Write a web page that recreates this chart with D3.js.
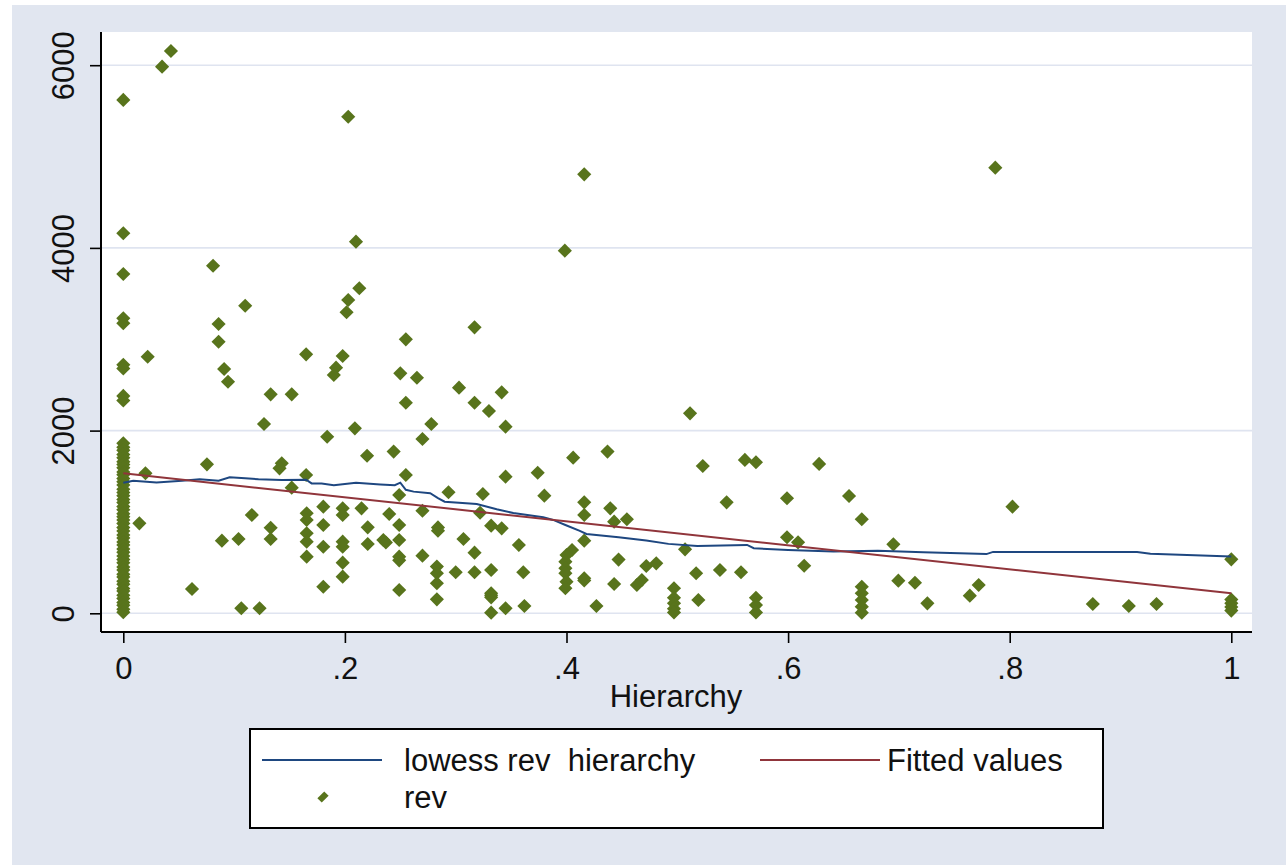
<!DOCTYPE html>
<html>
<head>
<meta charset="utf-8">
<script src="https://cdn.jsdelivr.net/npm/d3@7"></script>
<style>
  html, body { margin: 0; padding: 0; background: #ffffff; }
  svg { display: block; }
  text { font-family: "Liberation Sans", Arial, sans-serif; fill: #111; white-space: pre; }
</style>
</head>
<body>
<svg id="chart" width="1286" height="865"></svg>
<script>
// ---------------- DATA ----------------
const xTicks = [0, 0.2, 0.4, 0.6, 0.8, 1];
const xTickLabels = ["0", ".2", ".4", ".6", ".8", "1"];
const yTicks = [0, 2000, 4000, 6000];
const yTickLabels = ["0", "2000", "4000", "6000"];
const xTitle = "Hierarchy";
const legendLabels = ["lowess rev  hierarchy", "Fitted values", "rev"];

// scatter: hierarchy (x) and rev (y)
const hierarchy = [
  0,0,0,0,0,0,0,0,0,
  0,0,0,0,0,0,0,0,0,0,0,0,0,0,0,0,0,0,0,0,0,0,0,0,0,0,0,0,0,0,0,0,0,0,0,0,0,0,0,0,0,0,0,0,0,0,0,0,0,
  0.035,0.043,0.203,0.21,0.081,0.213,0.11,0.203,0.2015,0.086,0.086,0.022,0.091,0.0945,0.133,0.152,0.165,0.198,0.192,0.19,
  0.127,0.209,0.184,0.22,0.244,0.02,0.0145,0.0755,0.062,0.089,0.104,0.116,0.133,0.133,0.1065,0.123,0.143,0.141,0.152,0.165,
  0.1655,0.1655,0.1655,0.1655,0.1655,
  0.1805,0.1805,0.1805,0.1805,
  0.198,0.198,0.198,0.198,0.198,0.198,
  0.215,0.2206,0.2206,0.2347,0.237,0.24,
  0.249,0.249,0.249,0.249,0.249,0.249,
  0.255,0.317,0.25,0.265,0.255,0.303,0.317,0.33,0.3415,0.345,0.278,0.27,0.255,0.345,0.374,0.38,0.406,0.437,0.5115,0.523,
  0.561,0.571,0.628,0.5445,0.599,0.2935,0.3245,0.416,0.416,0.4395,0.443,0.4545,0.27,0.322,0.284,0.284,0.332,0.3415,
  0.27,0.307,0.317,0.357,0.416,0.447,0.472,0.481,0.507,
  0.405,0.4,0.399,0.399,0.399,0.4,0.399,
  0.283,0.283,0.283,0.283,
  0.3,0.317,
  0.332,0.332,0.332,0.332,0.332,
  0.345,0.361,0.362,0.416,0.416,0.427,0.443,0.4635,0.468,
  0.497,0.497,0.497,0.497,0.497,
  0.517,0.519,0.5385,0.5575,
  0.571,0.571,0.571,
  0.599,0.609,0.6145,0.655,0.6665,0.695,
  0.6665,0.6665,0.6665,0.6665,0.6665,
  0.6995,0.7145,0.7257,0.764,0.772,0.8025,0.875,0.9075,0.9325,
  1,1,1,1,1,
  0.416,0.3985,0.787
];
const rev = [
  5620,4160,3714,3229,3175,2720,2680,2380,2330,
  1862,1818,1784,1738,1702,1660,1628,1592,1547,1518,1476,1441,1405,1358,1322,1288,1246,1212,1168,1134,1091,1058,1022,984,938,902,857,823,781,748,703,668,627,588,552,507,474,428,398,352,318,271,243,198,163,118,87,44,12,
  5984,6155,5436,4068,3805,3558,3367,3430,3295,3167,2973,2809,2674,2535,2397,2397,2835,2817,2689,2609,
  2072,2025,1933,1725,1770,1533,985,1631,266,795,813,1076,937,813,55,55,1642,1587,1375,1514,
  1095,1021,876,784,620,
  1167,967,729,291,
  1149,1076,784,729,554,401,
  1149,941,759,802,775,1087,
  1295,967,802,620,580,255,
  2999,3130,2627,2579,2305,2470,2305,2214,2419,2043,2072,1908,1514,1496,1539,1288,1704,1770,2189,1613,
  1679,1653,1635,1215,1259,1325,1306,1215,1076,1149,1003,1029,1123,1101,940,905,959,930,
  631,813,664,748,795,588,518,547,700,
  693,638,565,493,438,346,274,
  511,438,329,153,
  449,449,
  474,219,198,175,7,
  55,449,80,383,360,80,321,310,365,
  274,170,110,50,10,
  438,146,474,449,
  170,90,10,
  832,777,521,1284,1029,755,
  291,219,146,73,7,
  357,335,109,193,310,1167,102,80,102,
  591,150,110,70,30,
  4805,3970,4878
];

// lowess rev hierarchy
const lowessX = [0,0.009,0.03,0.053,0.069,0.086,0.096,0.11,0.122,0.143,0.165,0.17,0.179,0.19,0.21,0.232,0.245,0.25,0.255,0.262,0.277,0.284,0.29,0.319,0.337,0.352,0.379,0.388,0.399,0.412,0.418,0.447,0.472,0.492,0.518,0.563,0.569,0.6,0.641,0.681,0.722,0.779,0.785,0.915,0.927,1.0];
const lowessY = [1428,1450,1432,1450,1468,1452,1488,1478,1468,1460,1462,1422,1420,1402,1428,1410,1402,1430,1352,1332,1314,1262,1222,1197,1139,1097,1051,1022,967,903,868,832,796,760,738,748,712,694,676,684,668,648,672,672,652,622];

// Fitted values (linear fit)
const fitX = [0, 1];
const fitY = [1533, 219];

// ---------------- LAYOUT ----------------
const svg = d3.select("#chart");
const W = 1286, H = 865;
const FONT = 31;

svg.append("rect").attr("x", 12).attr("y", 5).attr("width", W - 12).attr("height", H - 5)
  .attr("fill", "#e1e6f0");

const plot = { left: 101, right: 1252, top: 32, bottom: 632 };
svg.append("rect").attr("x", plot.left).attr("y", plot.top)
  .attr("width", plot.right - plot.left).attr("height", plot.bottom - plot.top)
  .attr("fill", "#ffffff");

const x = d3.scaleLinear().domain([0, 1]).range([123.3, 1231.3]);
const y = d3.scaleLinear().domain([0, 6000]).range([613.3, 65.2]);

// gridlines
svg.append("g").selectAll("line").data(yTicks).join("line")
  .attr("x1", plot.left).attr("x2", plot.right)
  .attr("y1", d => y(d)).attr("y2", d => y(d))
  .attr("stroke", "#dfe4f0").attr("stroke-width", 1.6);

// axes
const yAxis = d3.axisLeft(y).tickValues(yTicks).tickSize(11).tickPadding(0)
  .tickFormat((d, i) => yTickLabels[i]);
const gy = svg.append("g").attr("transform", `translate(${plot.left},0)`).call(yAxis);
gy.select(".domain").attr("d", `M0,${plot.top}V${plot.bottom}`).attr("stroke", "#000").attr("stroke-width", 2);
gy.selectAll(".tick line").attr("stroke", "#000").attr("stroke-width", 1.6);
gy.selectAll(".tick text")
  .attr("font-size", FONT).attr("font-family", "Liberation Sans, Arial, sans-serif").attr("fill", "#111")
  .attr("text-anchor", "middle").attr("dy", null).attr("x", null)
  .attr("transform", "translate(-27,0) rotate(-90)");

const xAxis = d3.axisBottom(x).tickValues(xTicks).tickSize(11).tickPadding(0)
  .tickFormat((d, i) => xTickLabels[i]);
const gx = svg.append("g").attr("transform", `translate(0,${plot.bottom})`).call(xAxis);
gx.select(".domain").attr("d", `M${plot.left},0H${plot.right}`).attr("stroke", "#000").attr("stroke-width", 2);
gx.selectAll(".tick line").attr("stroke", "#000").attr("stroke-width", 1.6);
gx.selectAll(".tick text")
  .attr("font-size", FONT).attr("font-family", "Liberation Sans, Arial, sans-serif").attr("fill", "#111")
  .attr("dy", null).attr("y", 47);

svg.append("text").attr("x", 676).attr("y", 707).attr("text-anchor", "middle")
  .attr("font-size", FONT).text(xTitle);

// scatter points
const pts = hierarchy.map((h, i) => ({ h, r: rev[i] }));
const diamond = d3.symbol().type(d3.symbolSquare).size(100);
const markerColor = "#58741c";
svg.append("g").selectAll("path").data(pts).join("path")
  .attr("d", diamond)
  .attr("transform", d => `translate(${x(d.h)},${y(d.r)}) rotate(45)`)
  .attr("fill", markerColor);

// lines
const lowess = lowessX.map((v, i) => [v, lowessY[i]]);
const fit = fitX.map((v, i) => [v, fitY[i]]);
const line = d3.line().x(d => x(d[0])).y(d => y(d[1]));
svg.append("path").datum(lowess).attr("d", line)
  .attr("fill", "none").attr("stroke", "#1e4780").attr("stroke-width", 2);
svg.append("path").datum(fit).attr("d", line)
  .attr("fill", "none").attr("stroke", "#90353b").attr("stroke-width", 2);

// legend
const lg = svg.append("g");
lg.append("rect").attr("x", 250).attr("y", 729).attr("width", 853).attr("height", 99)
  .attr("fill", "#fff").attr("stroke", "#000").attr("stroke-width", 2);
lg.append("line").attr("x1", 262).attr("x2", 382).attr("y1", 760).attr("y2", 760)
  .attr("stroke", "#1e4780").attr("stroke-width", 2);
lg.append("text").attr("x", 404).attr("y", 771).attr("font-size", FONT)
  .attr("xml:space", "preserve").text(legendLabels[0]);
lg.append("line").attr("x1", 760).attr("x2", 880).attr("y1", 760).attr("y2", 760)
  .attr("stroke", "#90353b").attr("stroke-width", 2);
lg.append("text").attr("x", 887).attr("y", 771).attr("font-size", FONT).text(legendLabels[1]);
lg.append("path").attr("d", d3.symbol().type(d3.symbolSquare).size(60))
  .attr("transform", "translate(323,797) rotate(45) scale(0.8,1.25)")
  .attr("fill", markerColor);
lg.append("text").attr("x", 404).attr("y", 808).attr("font-size", FONT).text(legendLabels[2]);
</script>
</body>
</html>
